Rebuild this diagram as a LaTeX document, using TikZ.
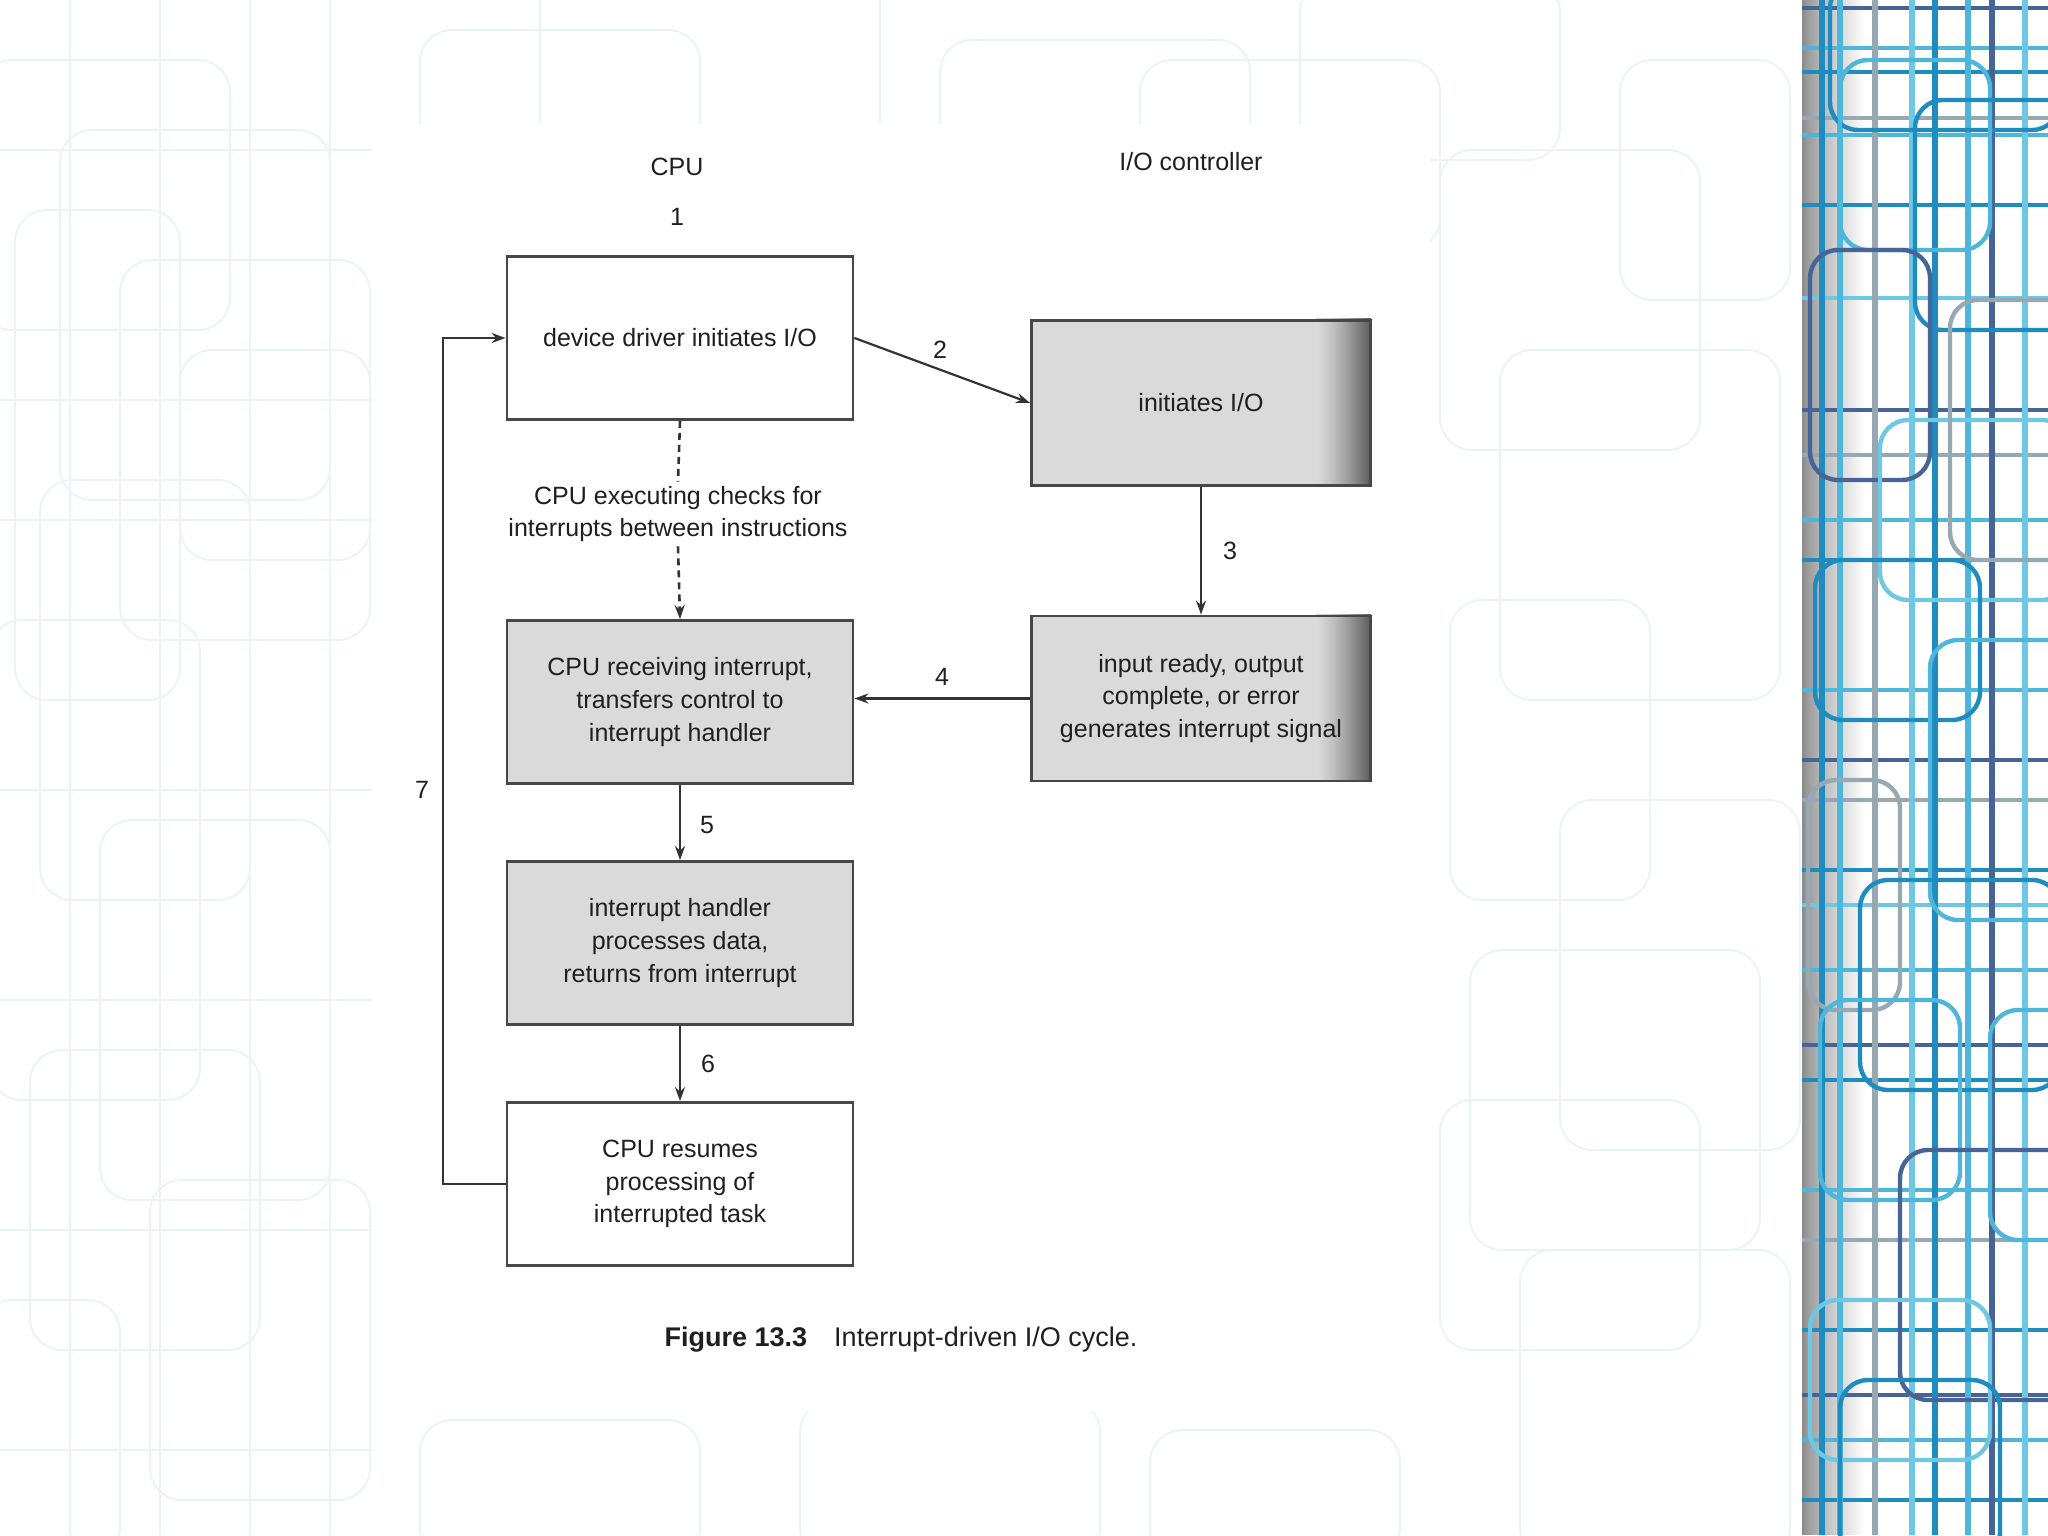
\documentclass[tikz,border=0pt]{standalone}
\usepackage{fontspec}
\setmainfont{Liberation Sans}
\usetikzlibrary{arrows.meta}
\definecolor{bgl}{RGB}{234,243,247}
\definecolor{sa}{RGB}{78,182,218}
\definecolor{sb}{RGB}{30,140,190}
\definecolor{sc}{RGB}{70,100,150}
\definecolor{sd}{RGB}{150,168,178}
\definecolor{se}{RGB}{110,200,228}
\definecolor{boxgray}{RGB}{218,218,218}
\begin{document}
\begin{tikzpicture}[x=0.5pt,y=-0.5pt,
  box/.style={draw=black!72, line width=1.4pt, minimum width=173pt, minimum height=81.5pt,
    align=center, inner sep=0pt, text=black!88, font=\fontsize{12.5}{16.3}\selectfont},
  gbox/.style={box, fill=boxgray},
  rbox/.style={box, minimum width=169.5pt, minimum height=82.5pt},
  lbl/.style={text=black!88, font=\fontsize{12.5}{15}\selectfont, inner sep=1pt},
  conn/.style={draw=black!80, line width=1.1pt, -{Stealth[length=7pt,width=5pt]}},
  dsh/.style={draw=black!80, line width=1.3pt, dash pattern=on 3.5pt off 2.5pt},
  bgr/.style={draw=bgl, line width=0.9pt, rounded corners=16pt},
  st/.style={rounded corners=14pt, line width=2.2pt}]
\useasboundingbox (0,0) rectangle (2048,1535);
\fill[white] (0,0) rectangle (2048,1535);
% faint background pattern
\begin{scope}
\clip (0,0) rectangle (1802,1535);
\foreach \a/\b/\c/\d in {-20/60/230/330, 60/130/330/500, 15/210/180/700, 120/260/370/640,
  40/480/250/900, 180/350/370/560, -10/620/200/1100, 100/820/330/1200, 30/1050/260/1350,
  150/1180/370/1500, -20/1300/120/1560, 420/30/700/200, 540/-30/880/150, 940/40/1250/180,
  1140/60/1440/250, 1300/-20/1560/160, 1440/150/1700/450, 1500/350/1780/700, 1450/600/1650/900,
  1560/800/1800/1150, 1440/1100/1700/1350, 1520/1250/1790/1560, 420/1420/700/1560,
  800/1400/1100/1560, 1150/1430/1400/1560, 1620/60/1790/300, 1470/950/1760/1250}
  {\draw[bgr] (\a,\b) rectangle (\c,\d);}
\foreach \y in {150,400,520,790,1000,1230,1450}{\draw[bgl, line width=0.7pt] (0,\y) -- (372,\y);}
\foreach \x in {70,160,250,330}{\draw[bgl, line width=0.7pt] (\x,0) -- (\x,1535);}
\end{scope}
\fill[white] (372,124) rectangle (1430,1411);
% right decorative strip with shadow
\fill[white] (1802,0) rectangle (2048,1535);
\foreach \i in {0,...,31}{
  \pgfmathtruncatemacro\v{140+115*(\i/31)^0.8}
  \definecolor{tmpc}{RGB}{\v,\v,\v}
  \fill[tmpc] (1802+2*\i,0) rectangle (1804.8+2*\i,1535);}
\begin{scope}
\clip (1802,0) rectangle (2048,1535);
\foreach \y/\c in {8/sc,48/sa,72/sb,118/sd,135/sa,205/sb,298/se,410/sc,455/sd,520/sa,
  560/sb,690/sa,760/sc,800/sd,870/sb,905/se,970/sa,1045/sc,1080/sb,1190/sa,1240/sd,
  1330/sb,1395/sc,1440/sa,1500/sb}
  {\draw[\c, line width=2pt] (1802,\y) -- (2048,\y);}
\foreach \x/\c in {1822/sb,1840/sa,1875/sd,1912/se,1935/sb,1968/sa,1992/sc,2025/se}
  {\draw[\c, line width=2.6pt] (\x,0) -- (\x,1535);}
\foreach \a/\b/\c/\d/\e in {1830/-20/2060/130/sb, 1840/60/1990/250/sa, 1915/100/2100/330/sb,
  1810/250/1930/480/sc, 1880/420/2070/600/se, 1815/560/1980/720/sb, 1930/640/2100/920/sa,
  1808/780/1900/1010/sd, 1860/880/2060/1090/sb, 1820/1000/1960/1200/sa, 1900/1150/2080/1400/sc,
  1810/1300/1990/1460/se, 1950/300/2100/560/sd, 1990/1010/2100/1240/sa, 1840/1380/2000/1560/sb}
  {\draw[st, \e] (\a,\b) rectangle (\c,\d);}
\end{scope}
% fills of the two I/O-controller boxes with their dark right band
\foreach \top/\bot in {320.5/485.5, 616/781}{
  \fill[boxgray] (1031.5,\top) rectangle (1370.5,\bot);
  \foreach \i in {0,...,26}{
    \pgfmathtruncatemacro\v{218-120*(\i/26)^1.3}
    \definecolor{tmpc}{RGB}{\v,\v,\v}
    \fill[tmpc] (1316+2*\i,\top-2) rectangle (1318.8+2*\i,\bot);}}
% headings
\node[lbl] (cpu) at (677,167) {CPU};
\node[lbl] (ioc) at (1191,162) {I/O controller};
\node[lbl] (n1) at (677,217) {1};
% boxes
\node[box] (b1) at (680,338) {device driver initiates I/O};
\node[rbox] (b2) at (1201,403) {initiates I/O};
\node[rbox] (b3) at (1201,698.5) {input ready, output\\complete, or error\\generates interrupt signal};
\node[gbox] (b4) at (680,702) {CPU receiving interrupt,\\transfers control to\\interrupt handler};
\node[gbox] (b5) at (680,943) {interrupt handler\\processes data,\\returns from interrupt};
\node[box] (b6) at (680,1184) {CPU resumes\\processing of\\interrupted task};
\node[lbl, align=center, font=\fontsize{12.5}{16.3}\selectfont, inner sep=2pt] (chk) at (678,514)
  {CPU executing checks for\\interrupts between instructions};
% connectors
\draw[conn] (b1.east) -- (b2.west);
\draw[conn] (b2.south) -- (b3.north);
\draw[conn] (b3.west) -- (b3.west -| b4.east);
\draw[conn] (b4.south) -- (b5.north);
\draw[conn] (b5.south) -- (b6.north);
\draw[conn] (b6.west) -- ++(-63,0) |- (b1.west);
\draw[dsh] (b1.south) -- (chk.north);
\draw[dsh, -{Stealth[length=7pt,width=5pt]}] (chk.south) -- (b4.north);
% numbers
\node[lbl] (n2) at (940,350) {2};
\node[lbl] (n3) at (1230,551) {3};
\node[lbl] (n4) at (942,677) {4};
\node[lbl] (n5) at (707,825) {5};
\node[lbl] (n6) at (708,1064) {6};
\node[lbl] (n7) at (422,790) {7};
% caption
\node[text=black!88, font=\fontsize{13.5}{16}\selectfont] (cap) at (901,1340)
  {\textbf{Figure 13.3}\quad Interrupt-driven I/O cycle.};
\end{tikzpicture}
\end{document}
